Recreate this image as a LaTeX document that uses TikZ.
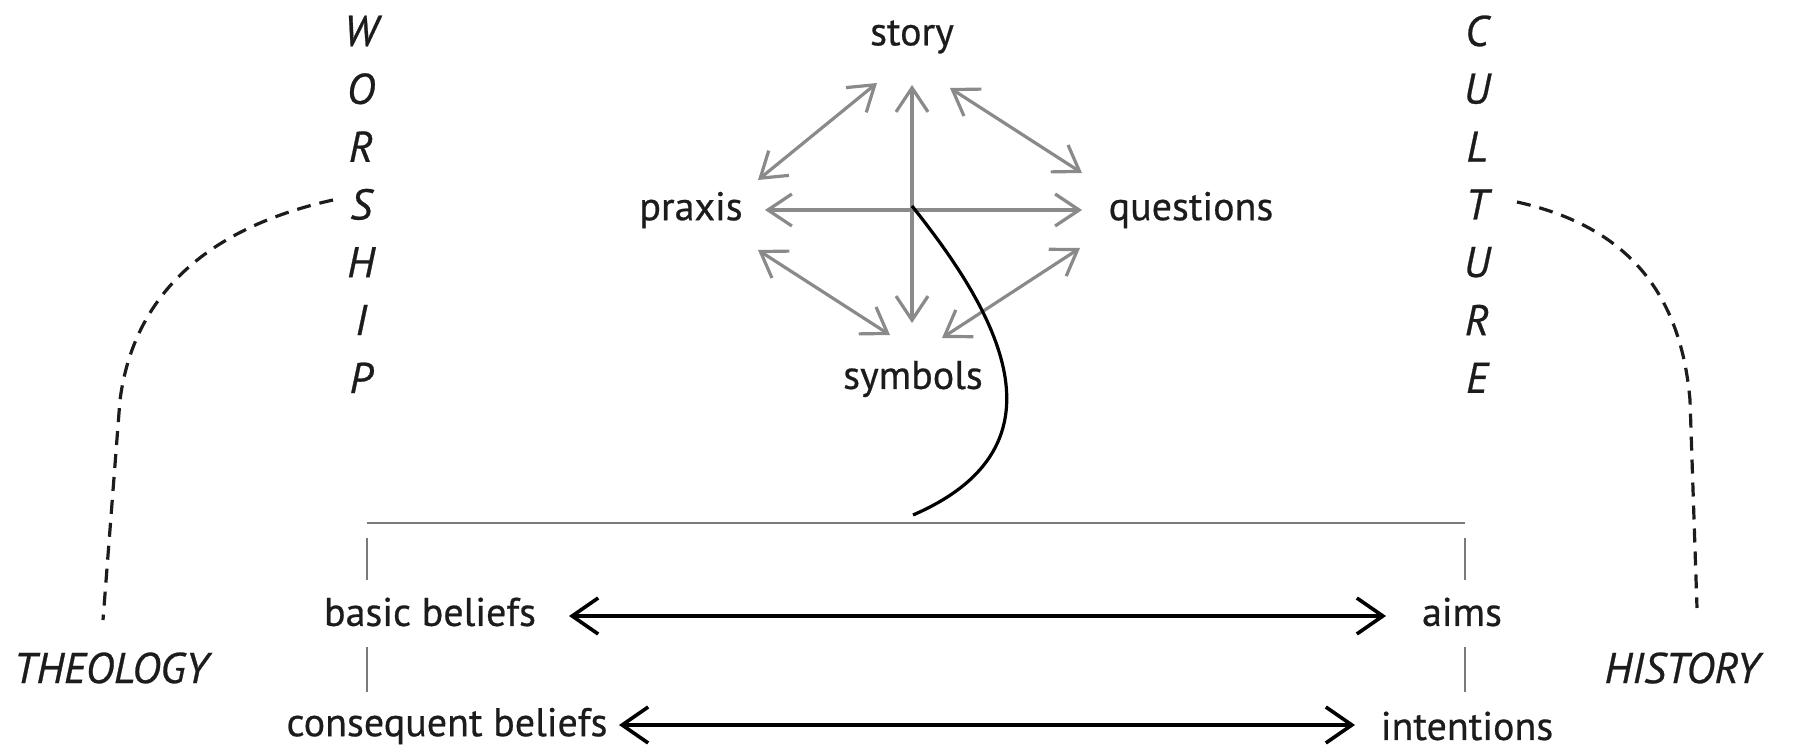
\documentclass[tikz,border=0pt]{standalone}
\usepackage{fontspec}
\setmainfont{PT Sans}[FakeBold=0.6]
\usetikzlibrary{arrows.meta}
\definecolor{txt}{HTML}{1C1C1C}
\definecolor{garrow}{HTML}{8A8A8A}
\definecolor{gline}{HTML}{7A7A7A}
\begin{document}
\begin{tikzpicture}[x=0.5pt,y=-0.5pt,
  lbl/.style={font=\fontsize{20}{24}\selectfont, text=txt, inner sep=0pt},
  ital/.style={font=\fontsize{21.5}{26}\selectfont\itshape, text=txt, inner sep=0pt},
  garr/.style={draw=garrow, line width=1.6pt, {Straight Barb[length=12pt,width=16pt]}-{Straight Barb[length=12pt,width=16pt]}},
  barr/.style={draw=black, line width=1.8pt, {Straight Barb[length=13pt,width=18pt]}-{Straight Barb[length=13pt,width=18pt]}},
  dashlink/.style={draw=txt, line width=1.6pt, dash pattern=on 7pt off 4.5pt},
  tick/.style={draw=gline, line width=0.8pt},
]
\useasboundingbox (0,0) rectangle (1796,753);

% central square of elements
\node[lbl] (story) at (912,37) {story};
\node[lbl] (praxis) at (691,210) {praxis};
\node[lbl] (questions) at (1191,210) {questions};
\node[lbl] (symbols) at (913,379) {symbols};

\coordinate (vt) at (912,85);   \coordinate (vb) at (912,323);
\coordinate (hl) at (765,210);  \coordinate (hr) at (1082,210);
\coordinate (ula) at (877,83);  \coordinate (ulb) at (758,180);
\coordinate (ura) at (950,88);  \coordinate (urb) at (1082,173);
\coordinate (lla) at (758,250); \coordinate (llb) at (890,335);
\coordinate (lra) at (1080,248);\coordinate (lrb) at (942,338);

\draw[garr] (vt) -- (vb);
\draw[garr] (hl) -- (hr);
\draw[garr] (ula) -- (ulb);
\draw[garr] (ura) -- (urb);
\draw[garr] (lla) -- (llb);
\draw[garr] (lra) -- (lrb);

% vertical words
\foreach \l [count=\i from 0] in {W,O,R,S,H,I,P}
  \node[ital] (w\i) at (361,{31+57.8*\i}) {\l};
\foreach \l [count=\i from 0] in {C,U,L,T,U,R,E}
  \node[ital] (c\i) at (1477,{31+57.8*\i}) {\l};

\node[ital] (theo) at (111,668) {THEOLOGY};
\node[ital] (hist) at (1682,668) {HISTORY};

% bottom worldview bar
\coordinate (barl) at (367,523);
\coordinate (barr) at (1465,523);
\draw[draw=gline, line width=1pt] (barl) -- (barr);
\draw[tick] (367,538) -- (367,580);
\draw[tick] (367,647) -- (367,692);
\draw[tick] (1465,538) -- (1465,580);
\draw[tick] (1465,647) -- (1465,692);

\node[lbl] (basic) at (430,612) {basic beliefs};
\node[lbl] (aims) at (1462,612) {aims};
\node[lbl] (conseq) at (447,726) {consequent beliefs};
\node[lbl] (intent) at (1467,726) {intentions};

\coordinate (ba) at (569,616); \coordinate (ab) at (1386,616);
\coordinate (ca) at (619,725); \coordinate (ib) at (1355,725);
\draw[barr] (ba) -- (ab);
\draw[barr] (ca) -- (ib);

% black link from centre to bar
\coordinate (centre) at (912,206);
\coordinate (barmid) at (913,515);
\draw[black, line width=1.6pt] (centre) .. controls (995,310) and (1075,445) .. (barmid);

% dashed links
\coordinate (sS) at (333,200);
\coordinate (tT) at (1517,202);
\coordinate (theoTop) at (103,620);
\coordinate (histTop) at (1697,608);
\draw[dashlink] (sS) .. controls (220,225) and (135,285) .. (120,400) -- (theoTop);
\draw[dashlink] (tT) .. controls (1620,225) and (1680,285) .. (1690,400) -- (histTop);
\end{tikzpicture}
\end{document}
